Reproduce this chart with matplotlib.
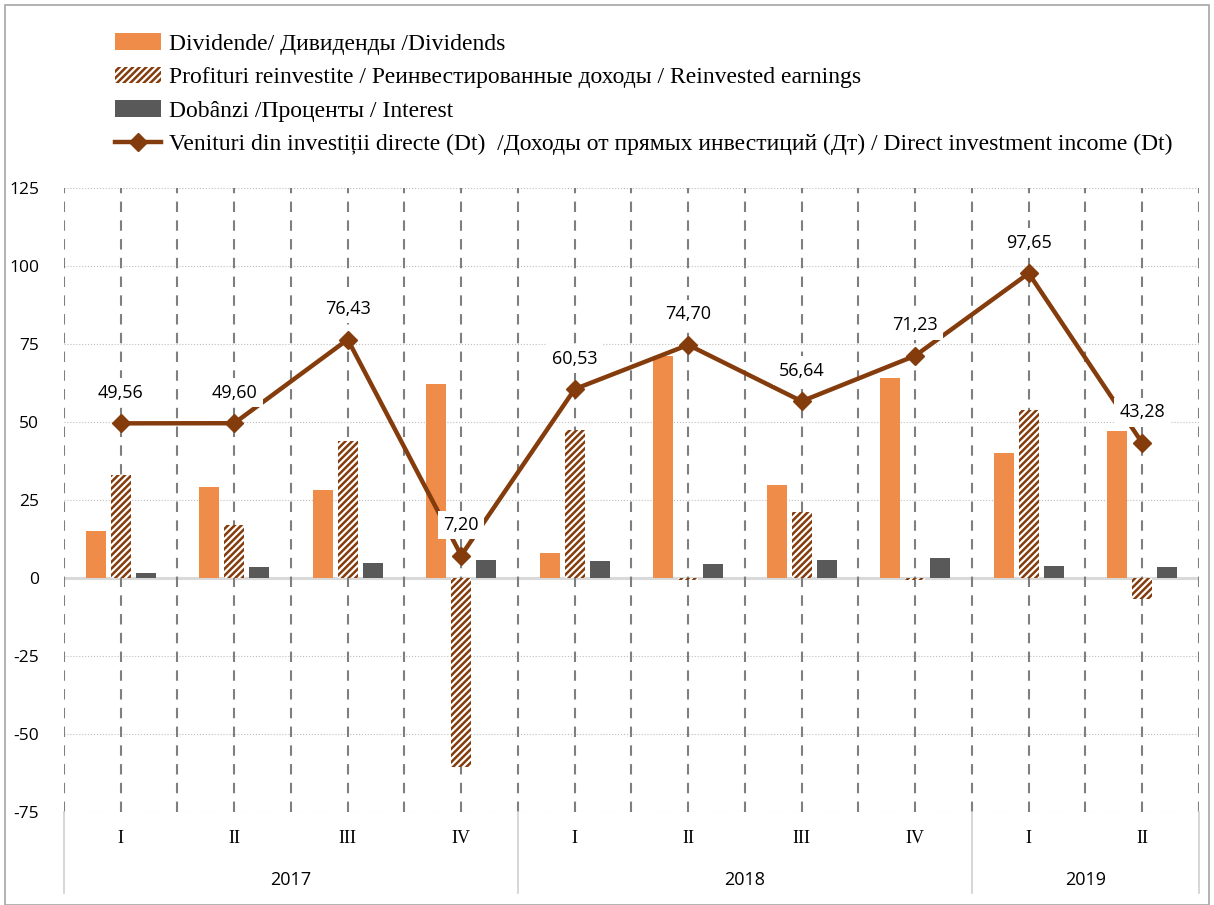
import matplotlib.pyplot as plt
import numpy as np
from matplotlib.lines import Line2D
from matplotlib.patches import Rectangle

quarters = ["I", "II", "III", "IV", "I", "II", "III", "IV", "I", "II"]
years = ["2017", "2018", "2019"]
year_spans = [(0, 3), (4, 7), (8, 9)]

dividends = [15.0, 29.3, 28.2, 62.2, 8.0, 71.0, 29.8, 64.0, 40.0, 47.1]
reinvested = [33.0, 17.0, 43.9, -60.5, 47.4, -0.6, 21.2, -0.6, 53.8, -6.8]
interest = [1.5, 3.6, 4.7, 5.8, 5.3, 4.5, 5.6, 6.4, 3.9, 3.4]
income = [49.56, 49.60, 76.43, 7.20, 60.53, 74.70, 56.64, 71.23, 97.65, 43.28]

labels = ["Dividende/ Дивиденды /Dividends",
          "Profituri reinvestite / Реинвестированные доходы / Reinvested earnings",
          "Dobânzi /Проценты / Interest",
          "Venituri din investiții directe (Dt)  /Доходы от прямых инвестиций (Дт) / Direct investment income (Dt)"]

ORANGE = "#f08c4a"
BROWN = "#843c0c"
GREY = "#595959"

plt.rcParams['hatch.linewidth'] = 1.8
plt.rcParams['axes.unicode_minus'] = False
plt.rcParams['font.family'] = ['Open Sans', 'DejaVu Sans']

fig = plt.figure(figsize=(12.14, 9.05), dpi=100)
ax = fig.add_axes([0.0527, 0.1028, 0.9349, 0.6895])

x = np.arange(len(quarters))
w = 0.176
off = 0.22

#棒グラフ
b1 = ax.bar(x - off, dividends, w, color=ORANGE, zorder=3)
b2 = ax.bar(x, reinvested, w, facecolor="white", edgecolor=BROWN, hatch="/////", linewidth=0, zorder=3)
b3 = ax.bar(x + off, interest, w, color=GREY, zorder=3)

#折れ線
ln, = ax.plot(x, income, color=BROWN, lw=3.2, marker="D", markersize=9, zorder=5)

for xi, v in zip(x, income):
    ax.annotate(f"{v:.2f}".replace(".", ","), (xi, v), xytext=(0, 22), textcoords="offset points",
                ha="center", va="center", fontsize=13, zorder=6,
                bbox=dict(boxstyle="square,pad=0.3", fc="white", ec="none"))

ax.set_xlim(-0.5, 9.5)
ax.set_ylim(-75, 125)
ax.set_yticks(np.arange(-75, 126, 25))
ax.tick_params(axis="y", length=0, labelsize=12.5, pad=18)
ax.set_xticks([])
for s in ax.spines.values():
    s.set_visible(False)

#グリッド
for yv in np.arange(-75, 126, 25):
    if yv != 0:
        ax.axhline(yv, color="#bfbfbf", lw=0.8, ls=":", zorder=1)
ax.axhline(0, color="#d9d9d9", lw=2.2, zorder=2)
for xv in np.arange(-0.5, 9.6, 0.5):
    ax.axvline(xv, color="#7f7f7f", lw=1.5, ls=(0, (5, 4)), zorder=2)

#カテゴリーラベル
trans = ax.get_xaxis_transform()
for xi, q in zip(x, quarters):
    ax.text(xi, -0.042, q, transform=trans, ha="center", va="center", fontsize=13,
            family="Liberation Serif")
for yr, (a, b) in zip(years, year_spans):
    ax.text((a + b) / 2, -0.109, yr, transform=trans, ha="center", va="center", fontsize=13)
for xv in [-0.5, 3.5, 7.5, 9.5]:
    ax.add_line(Line2D([xv, xv], [0, -0.13], transform=trans, color="#d0d0d0", lw=1.2, clip_on=False))

fig.legend([b1, b2, b3, ln], labels, loc="upper left", bbox_to_anchor=(0.0947, 0.963),
           frameon=False, prop={"family": "Liberation Serif", "size": 17},
           borderpad=0, borderaxespad=0,
           handlelength=1.95, handletextpad=0.35, labelspacing=0.5)

fig.add_artist(Rectangle((0.004, 0.0), 0.992, 0.994, transform=fig.transFigure,
                         fill=False, ec="#a6a6a6", lw=1.2))

fig.savefig("out.png", dpi=100)
